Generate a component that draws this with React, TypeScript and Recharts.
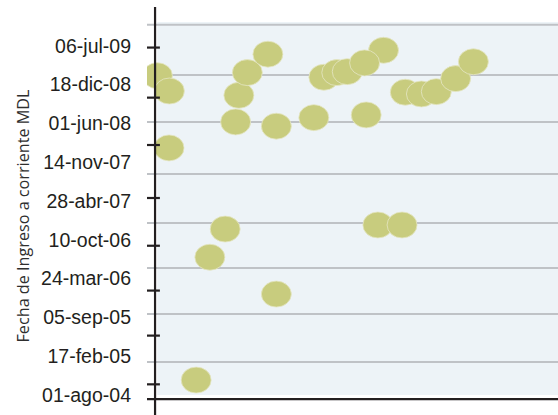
import React from 'react';
import {
  ScatterChart,
  Scatter,
  XAxis,
  YAxis,
  ReferenceLine,
  ReferenceArea,
  Label,
} from 'recharts';

const MONTHS_ES = ['ene', 'feb', 'mar', 'abr', 'may', 'jun', 'jul', 'ago', 'sep', 'oct', 'nov', 'dic'];
const Y_TITLE = 'Fecha de Ingreso a corriente MDL';
const yLabelDates = [
  '2004-08-01', '2005-02-17', '2005-09-05', '2006-03-24', '2006-10-10',
  '2007-04-28', '2007-11-14', '2008-06-01', '2008-12-18', '2009-07-06',
];
const yTickMarkDates = [
  '2004-09-25', '2005-06-03', '2006-01-21', '2006-09-09',
  '2007-05-13', '2008-02-10', '2008-10-11', '2009-06-26',
];
const yGridDates = [
  '2005-01-18', '2005-09-22', '2006-05-17', '2007-01-04',
  '2007-09-14', '2008-06-08', '2009-02-05', '2009-10-21',
];
const yDomainDates = ['2004-04-20', '2010-01-21'];
const plotBandDates = ['2004-08-01', '2009-11-05'];
const xAxisCrossDate = '2004-07-11';
const xDomain = [-2, 100];
const pointX = [
  0.57, 3.47, 3.55, 10.2, 13.6, 17.4, 20.0, 20.8, 22.9, 28.0,
  30.1, 30.1, 39.4, 41.9, 45.1, 47.7, 56.7, 52.0, 52.4, 55.3,
  61.3, 62.1, 66.1, 69.8, 74.6, 79.0,
];
const pointDates = [
  '2009-02-01', '2008-01-26', '2008-11-14', '2004-10-17', '2006-07-12',
  '2006-12-04', '2008-06-08', '2008-10-23', '2009-02-17', '2009-05-23',
  '2006-01-03', '2008-05-17', '2008-06-30', '2009-01-24', '2009-02-17',
  '2009-02-22', '2009-06-12', '2009-04-08', '2008-07-14', '2006-12-25',
  '2006-12-25', '2008-11-08', '2008-10-30', '2008-11-11', '2009-01-17',
  '2009-04-14',
];

const dayOf = (iso: string) => {
  const [y, m, d] = iso.split('-').map(Number);
  return Date.UTC(y, m - 1, d) / 86400000;
};
const pad = (n: number) => (n < 10 ? '0' + n : '' + n);
const fmtDate = (v: number) => {
  const d = new Date(Math.round(v) * 86400000);
  return `${pad(d.getUTCDate())}-${MONTHS_ES[d.getUTCMonth()]}-${pad(d.getUTCFullYear() % 100)}`;
};

const data = pointX.map((x, i) => ({ x, y: dayOf(pointDates[i]) }));
const yDomain = yDomainDates.map(dayOf);
const yTicks = yLabelDates.map(dayOf);

const FILL = '#C8CC7E';

const EllipseShape = (props: any) => {
  const { cx, cy } = props;
  if (cx == null || cy == null) return <g />;
  return <ellipse cx={cx} cy={cy} rx={15} ry={13} fill={FILL} stroke="#E4E6C4" strokeWidth={0.8} />;
};

const TitleContent = (props: any) => {
  const vb = props.viewBox || { x: 0, y: 0, width: 0, height: 0 };
  const x = vb.x + 23;
  const y = vb.y + vb.height / 2 + 5;
  return (
    <text x={x} y={y} transform={`rotate(-90, ${x}, ${y})`} textAnchor="middle" dominantBaseline="central"
      fill="#2E2E2E" fontSize={16.2} fontFamily="'Open Sans', 'Noto Sans', sans-serif">
      {Y_TITLE}
    </text>
  );
};

const AXIS_Z: any = { zIndex: 1500, isFront: true };

export default function App() {
  return (
    <div style={{ position: 'absolute', left: 0, top: 0, background: '#fff' }}>
      <ScatterChart width={558} height={415} margin={{ top: 7, right: 0, bottom: 0, left: 0 }}>
        <XAxis xAxisId="x" dataKey="x" type="number" domain={xDomain} allowDataOverflow hide />
        <YAxis yAxisId="y" dataKey="y" type="number" domain={yDomain} allowDataOverflow ticks={yTicks}
          interval={0} width={147} axisLine={false} tickLine={false} tickSize={0} tickMargin={16}
          tickFormatter={fmtDate}
          tick={{ fontSize: 19.5, fill: '#231F20', fontFamily: "'Liberation Sans', Arial, sans-serif" }}>
          <Label content={TitleContent} />
        </YAxis>
        <ReferenceArea xAxisId="x" yAxisId="y" x1={0.55} x2={xDomain[1]} y1={dayOf(plotBandDates[0])}
          y2={dayOf(plotBandDates[1])} fill="#EDF3F7" fillOpacity={1} stroke="none" />
        {yGridDates.map((d) => (
          <ReferenceLine key={'g' + d} xAxisId="x" yAxisId="y" y={dayOf(d)} stroke="#BFC2C6" strokeWidth={2} />
        ))}
        <Scatter xAxisId="x" yAxisId="y" data={data} shape={EllipseShape} isAnimationActive={false} />
        <ReferenceLine {...AXIS_Z} xAxisId="x" yAxisId="y" x={0} stroke="#231F20" strokeWidth={2.2} />
        <ReferenceLine {...AXIS_Z} xAxisId="x" yAxisId="y" y={dayOf(xAxisCrossDate)} stroke="#231F20" strokeWidth={2.2} />
        {yTickMarkDates.map((d) => (
          <ReferenceLine {...AXIS_Z} key={'t' + d} xAxisId="x" yAxisId="y"
            segment={[{ x: xDomain[0], y: dayOf(d) }, { x: 1.2, y: dayOf(d) }]}
            stroke="#231F20" strokeWidth={2.2} />
        ))}
      </ScatterChart>
    </div>
  );
}
